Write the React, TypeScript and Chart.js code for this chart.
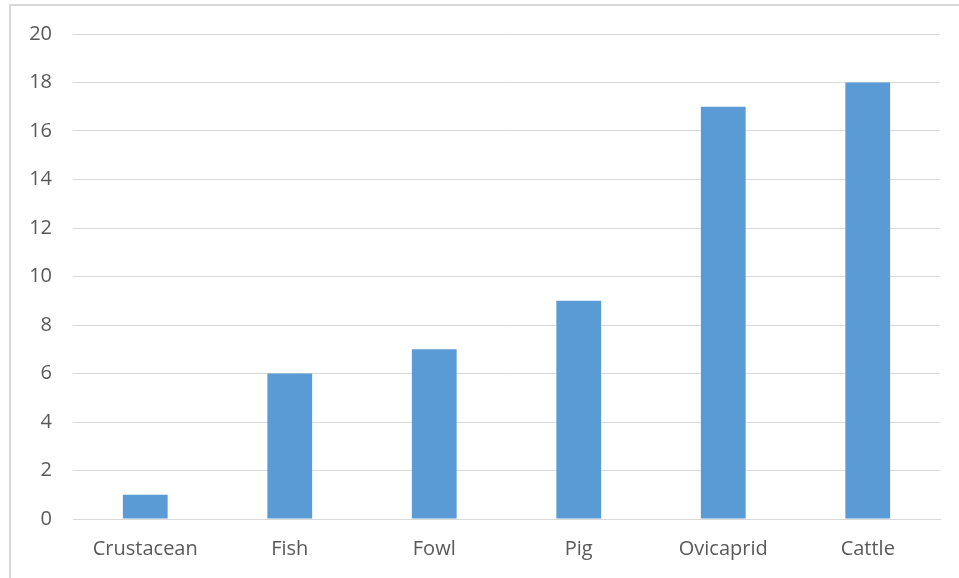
import React, { useEffect, useRef } from "react";
import { Chart, registerables } from "chart.js";

Chart.register(...registerables);

const categories = ["Crustacean", "Fish", "Fowl", "Pig", "Ovicaprid", "Cattle"];
const counts = [1, 6, 7, 9, 17, 18];
const yTicks = [0, 2, 4, 6, 8, 10, 12, 14, 16, 18, 20];

export default function App() {
  const ref = useRef<HTMLCanvasElement | null>(null);
  useEffect(() => {
    document.body.style.margin = "0";
    const ctx = ref.current!;
    const chart = new Chart(ctx, {
      type: "bar",
      data: {
        labels: categories,
        datasets: [
          {
            data: counts,
            backgroundColor: "#5B9BD5",
            borderWidth: 0,
            categoryPercentage: 1,
            barPercentage: 0.31,
          },
        ],
      },
      options: {
        animation: false,
        responsive: false,
        maintainAspectRatio: false,
        layout: { padding: { left: 0, right: 19, top: 34, bottom: 0 } },
        plugins: { legend: { display: false }, tooltip: { enabled: false } },
        scales: {
          x: {
            grid: { display: false, drawTicks: false },
            border: { display: true, color: "#d9d9d9", width: 1 },
            ticks: {
              color: "#595959",
              font: { family: "'Open Sans', 'Noto Sans', sans-serif", size: 20 },
              padding: 18,
              maxRotation: 0,
            },
            afterFit: (s: any) => {
              s.height = 59;
            },
          },
          y: {
            min: 0,
            max: 20,
            afterBuildTicks: (s: any) => {
              s.ticks = yTicks.map((v) => ({ value: v }));
            },
            grid: { color: "#d9d9d9", lineWidth: 1, drawTicks: false },
            border: { display: false },
            ticks: {
              color: "#595959",
              font: { family: "'Open Sans', 'Noto Sans', sans-serif", size: 20 },
              padding: 21,
            },
            afterFit: (s: any) => {
              s.width = 73;
            },
          },
        },
      },
    });
    return () => chart.destroy();
  }, []);
  return (
    <div style={{ position: "fixed", left: 0, top: 0, width: 959, height: 578, background: "#fff", overflow: "hidden" }}>
      <div
        style={{
          position: "absolute",
          left: 9,
          top: 4,
          width: 1000,
          height: 700,
          borderLeft: "2px solid #d9d9d9",
          borderTop: "2px solid #d9d9d9",
          boxSizing: "border-box",
        }}
      />
      <canvas ref={ref} width={959} height={578} style={{ position: "absolute", left: 0, top: 0 }} />
    </div>
  );
}
